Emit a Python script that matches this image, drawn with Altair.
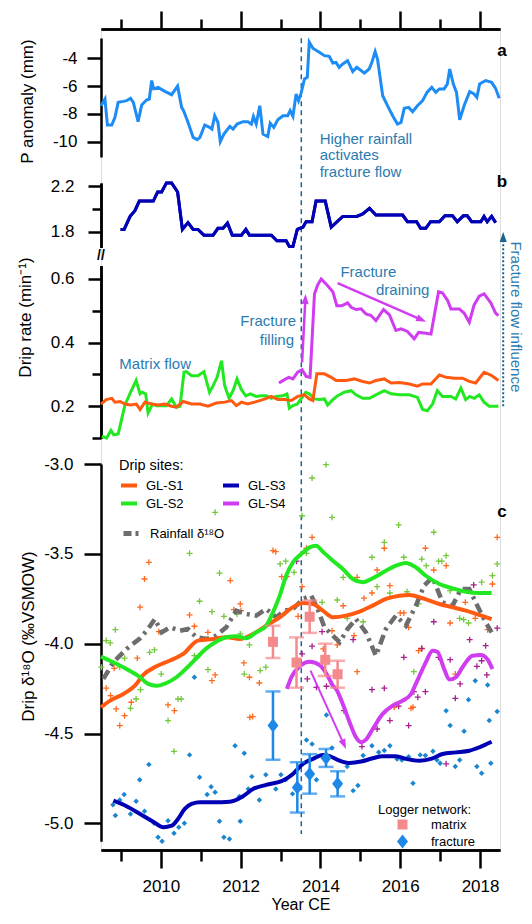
import altair as alt
import pandas as pd

FONT = "Liberation Sans"

# ---------------- data (year, value) ----------------
P_ANOM = [(2008.50,-7.41),(2008.60,-6.93),(2008.66,-8.80),(2008.77,-8.80),(2008.85,-8.25),(2008.93,-7.17),
          (2009.06,-7.10),(2009.14,-7.05),(2009.24,-6.88),(2009.31,-7.17),(2009.43,-8.56),(2009.52,-7.36),
          (2009.64,-7.00),(2009.71,-6.93),(2009.77,-5.60),(2009.82,-6.20),(2009.93,-6.09),(2010.10,-6.38),
          (2010.27,-6.62),(2010.42,-6.00),(2010.52,-7.53),(2010.57,-7.77),(2010.68,-8.60),(2010.81,-9.69),
          (2010.91,-9.86),(2010.98,-9.69),(2011.10,-8.80),(2011.22,-8.97),(2011.28,-9.10),(2011.35,-8.13),
          (2011.43,-8.60),(2011.49,-10.0),(2011.58,-9.45),(2011.73,-8.90),(2011.81,-9.09),(2011.91,-8.73),
          (2012.06,-8.56),(2012.18,-8.56),(2012.27,-8.73),(2012.32,-8.18),(2012.39,-8.73),(2012.48,-7.41),
          (2012.56,-9.45),(2012.68,-9.62),(2012.74,-8.66),(2012.83,-8.97),(2012.93,-8.42),(2013.06,-8.13),
          (2013.18,-8.13),(2013.24,-7.77),(2013.31,-8.18),(2013.39,-6.57),(2013.45,-7.05),(2013.52,-6.45),
          (2013.60,-5.49),(2013.67,-5.37),(2013.72,-2.85),(2013.81,-3.28),(2013.97,-3.57),(2014.10,-3.81),
          (2014.22,-3.86),(2014.31,-4.34),(2014.39,-4.29),(2014.47,-4.65),(2014.56,-4.41),(2014.68,-4.17),
          (2014.81,-4.96),(2014.91,-4.65),(2015.10,-5.06),(2015.22,-4.77),(2015.29,-4.29),(2015.37,-3.52),
          (2015.43,-4.05),(2015.56,-6.69),(2015.68,-7.41),(2015.81,-8.13),(2015.93,-8.73),(2016.02,-8.61),
          (2016.10,-7.60),(2016.21,-7.53),(2016.31,-7.84),(2016.43,-7.41),(2016.56,-7.05),(2016.67,-6.45),
          (2016.79,-6.09),(2016.89,-6.45),(2016.98,-6.20),(2017.10,-6.20),(2017.18,-5.85),(2017.24,-4.77),
          (2017.33,-5.85),(2017.41,-6.45),(2017.49,-8.42),(2017.60,-7.41),(2017.74,-6.40),(2017.85,-6.57),
          (2017.92,-6.81),(2017.99,-5.85),(2018.14,-5.60),(2018.29,-5.73),(2018.39,-6.16),(2018.48,-6.88)]

RATE_S3 = [(2008.99,1.82),(2009.08,1.82),(2009.23,1.935),(2009.35,1.985),(2009.46,2.07),(2009.81,2.07),
           (2009.92,2.15),(2010.02,2.15),(2010.14,2.23),(2010.27,2.23),(2010.42,2.15),(2010.54,1.82),
           (2010.68,1.88),(2010.81,1.82),(2010.93,1.82),(2011.08,1.77),(2011.31,1.77),(2011.43,1.83),
           (2011.56,1.83),(2011.67,1.876),(2011.79,1.77),(2012.02,1.77),(2012.13,1.82),(2012.22,1.77),
           (2012.77,1.77),(2012.91,1.72),(2013.14,1.72),(2013.22,1.67),(2013.31,1.67),(2013.42,1.82),
           (2013.56,1.84),(2013.64,1.888),(2013.79,1.888),(2013.89,2.07),(2014.12,2.07),(2014.27,1.84),
           (2014.56,1.935),(2014.91,1.935),(2015.06,1.956),(2015.23,2.006),(2015.39,1.947),(2016.06,1.947),
           (2016.18,1.888),(2016.41,1.888),(2016.51,1.83),(2016.64,1.83),(2016.76,1.888),(2016.98,1.888),
           (2017.12,1.94),(2017.31,1.94),(2017.43,1.888),(2017.58,1.94),(2017.68,1.94),(2017.79,1.888),
           (2018.02,1.888),(2018.10,1.935),(2018.18,1.888),(2018.29,1.935),(2018.39,1.88)]

RATE_S2 = [(2008.52,0.106),(2008.64,0.100),(2008.75,0.124),(2008.82,0.110),(2008.93,0.113),(2008.98,0.139),
           (2009.10,0.204),(2009.24,0.244),(2009.38,0.281),(2009.48,0.239),(2009.54,0.244),(2009.62,0.239),
           (2009.68,0.179),(2009.79,0.207),(2009.89,0.202),(2010.02,0.202),(2010.14,0.202),(2010.27,0.223),
           (2010.39,0.197),(2010.48,0.200),(2010.58,0.307),(2010.64,0.309),(2010.77,0.296),(2010.93,0.296),
           (2011.08,0.309),(2011.22,0.244),(2011.31,0.265),(2011.41,0.291),(2011.52,0.343),(2011.60,0.265),
           (2011.71,0.225),(2011.81,0.249),(2011.91,0.286),(2012.02,0.252),(2012.13,0.233),(2012.24,0.239),
           (2012.39,0.231),(2012.52,0.233),(2012.64,0.233),(2012.77,0.225),(2012.89,0.231),(2013.06,0.233),
           (2013.16,0.239),(2013.22,0.194),(2013.31,0.202),(2013.42,0.207),(2013.52,0.225),(2013.63,0.244),
           (2013.72,0.239),(2013.85,0.223),(2013.97,0.221),(2014.10,0.223),(2014.18,0.204),(2014.31,0.221),
           (2014.43,0.233),(2014.60,0.244),(2014.77,0.249),(2014.89,0.236),(2015.06,0.225),(2015.23,0.225),
           (2015.39,0.236),(2015.60,0.249),(2015.77,0.239),(2015.98,0.236),(2016.23,0.236),(2016.43,0.228),
           (2016.56,0.190),(2016.68,0.186),(2016.81,0.207),(2016.93,0.249),(2017.06,0.231),(2017.27,0.231),
           (2017.39,0.223),(2017.52,0.257),(2017.64,0.221),(2017.74,0.231),(2017.85,0.225),(2017.98,0.236),
           (2018.10,0.213),(2018.23,0.200),(2018.46,0.200)]

RATE_S1 = [(2008.50,0.207),(2008.63,0.221),(2008.77,0.225),(2008.85,0.213),(2008.98,0.215),(2009.10,0.207),
           (2009.24,0.204),(2009.39,0.207),(2009.48,0.190),(2009.60,0.213),(2009.77,0.207),(2009.93,0.204),
           (2010.10,0.207),(2010.27,0.200),(2010.39,0.197),(2010.56,0.215),(2010.77,0.207),(2010.98,0.207),
           (2011.18,0.200),(2011.39,0.210),(2011.60,0.213),(2011.77,0.218),(2011.89,0.202),(2012.02,0.213),
           (2012.18,0.207),(2012.35,0.213),(2012.56,0.221),(2012.77,0.231),(2012.93,0.221),(2013.10,0.221),
           (2013.27,0.218),(2013.43,0.231),(2013.60,0.236),(2013.72,0.223),(2013.81,0.218),(2013.91,0.302),
           (2014.10,0.302),(2014.27,0.291),(2014.39,0.281),(2014.64,0.281),(2014.85,0.286),(2015.06,0.278),
           (2015.23,0.273),(2015.39,0.281),(2015.60,0.286),(2015.77,0.273),(2015.98,0.275),(2016.23,0.270),
           (2016.43,0.263),(2016.56,0.270),(2016.77,0.270),(2016.98,0.298),(2017.15,0.291),(2017.35,0.288),
           (2017.56,0.288),(2017.73,0.278),(2017.89,0.273),(2018.10,0.307),(2018.27,0.298),(2018.46,0.281)]

RATE_S4 = [(2012.96,0.273),(2013.13,0.286),(2013.21,0.291),(2013.31,0.286),(2013.43,0.307),(2013.54,0.315),
           (2013.64,0.294),(2013.74,0.291),(2013.85,0.553),(2013.93,0.581),(2014.02,0.600),(2014.18,0.579),
           (2014.31,0.560),(2014.41,0.516),(2014.54,0.516),(2014.68,0.525),(2014.77,0.511),(2014.89,0.504),
           (2015.02,0.506),(2015.14,0.490),(2015.27,0.485),(2015.39,0.469),(2015.58,0.504),(2015.73,0.487),
           (2015.89,0.438),(2016.02,0.443),(2016.18,0.435),(2016.35,0.412),(2016.46,0.432),(2016.60,0.430),
           (2016.77,0.427),(2016.96,0.560),(2017.06,0.556),(2017.19,0.532),(2017.27,0.506),(2017.48,0.506),
           (2017.60,0.493),(2017.73,0.464),(2017.85,0.518),(2017.98,0.546),(2018.10,0.553),(2018.27,0.525),
           (2018.39,0.493),(2018.46,0.485)]

SMOOTH_S1 = [(2008.50,-4.354),(2008.73,-4.317),(2009.06,-4.280),(2009.35,-4.234),(2009.56,-4.174),
             (2009.89,-4.126),(2010.23,-4.094),(2010.56,-4.057),(2010.93,-3.983),(2011.31,-3.974),
             (2011.64,-3.964),(2011.98,-3.974),(2012.31,-3.946),(2012.64,-3.900),(2012.98,-3.853),
             (2013.31,-3.797),(2013.56,-3.774),(2013.81,-3.779),(2014.06,-3.816),(2014.31,-3.853),
             (2014.64,-3.844),(2014.98,-3.822),(2015.31,-3.788),(2015.64,-3.751),(2015.98,-3.733),
             (2016.23,-3.729),(2016.56,-3.747),(2016.98,-3.779),(2017.31,-3.797),(2017.64,-3.816),
             (2017.98,-3.840),(2018.29,-3.863)]
SMOOTH_S2 = [(2008.50,-4.072),(2008.81,-4.104),(2009.14,-4.141),(2009.48,-4.187),(2009.68,-4.224),
             (2009.89,-4.234),(2010.14,-4.219),(2010.39,-4.187),(2010.64,-4.137),(2010.89,-4.081),
             (2011.14,-4.026),(2011.39,-3.989),(2011.64,-3.964),(2011.89,-3.959),(2012.14,-3.970),
             (2012.39,-3.937),(2012.64,-3.900),(2012.81,-3.825),(2012.98,-3.733),(2013.14,-3.622),
             (2013.31,-3.547),(2013.52,-3.501),(2013.73,-3.464),(2013.89,-3.455),(2014.06,-3.488),
             (2014.31,-3.538),(2014.56,-3.584),(2014.81,-3.640),(2015.06,-3.658),(2015.31,-3.636),
             (2015.64,-3.594),(2015.89,-3.566),(2016.14,-3.551),(2016.39,-3.575),(2016.64,-3.622),
             (2016.98,-3.668),(2017.31,-3.692),(2017.64,-3.711),(2017.98,-3.718),(2018.29,-3.718)]
SMOOTH_S3 = [(2008.81,-4.874),(2009.14,-4.905),(2009.48,-4.948),(2009.81,-4.991),(2010.06,-5.022),
             (2010.27,-5.013),(2010.43,-4.976),(2010.60,-4.920),(2010.77,-4.892),(2010.98,-4.883),
             (2011.31,-4.883),(2011.73,-4.880),(2012.06,-4.849),(2012.31,-4.809),(2012.64,-4.786),
             (2013.06,-4.762),(2013.31,-4.725),(2013.56,-4.669),(2013.81,-4.641),(2014.06,-4.619),
             (2014.23,-4.626),(2014.48,-4.651),(2014.73,-4.664),(2015.02,-4.656),(2015.31,-4.638),
             (2015.56,-4.626),(2015.89,-4.626),(2016.14,-4.641),(2016.48,-4.651),(2016.81,-4.638),
             (2017.06,-4.614),(2017.39,-4.605),(2017.73,-4.596),(2017.98,-4.577),(2018.29,-4.546)]
SMOOTH_S4 = [(2013.16,-4.252),(2013.27,-4.187),(2013.48,-4.126),(2013.73,-4.100),(2013.98,-4.119),
             (2014.18,-4.178),(2014.31,-4.234),(2014.39,-4.252),(2014.56,-4.336),(2014.73,-4.437),
             (2014.89,-4.521),(2015.02,-4.549),(2015.14,-4.534),(2015.31,-4.475),(2015.56,-4.391),
             (2015.81,-4.345),(2016.06,-4.317),(2016.27,-4.280),(2016.39,-4.224),(2016.48,-4.180),
             (2016.64,-4.104),(2016.81,-4.039),(2016.93,-4.045),(2017.10,-4.141),(2017.23,-4.200),
             (2017.39,-4.187),(2017.56,-4.131),(2017.81,-4.067),(2018.02,-4.063),(2018.18,-4.085),
             (2018.31,-4.141)]

RAIN_D18O = [(2008.56,-4.196),(2008.81,-4.103),(2009.14,-4.030),(2009.48,-3.970),(2009.68,-3.918),
             (2009.85,-3.863),(2010.02,-3.937),(2010.23,-3.909),(2010.48,-3.928),(2010.68,-3.918),
             (2010.89,-3.964),(2011.14,-3.974),(2011.39,-3.955),(2011.64,-3.909),(2011.89,-3.816),
             (2012.14,-3.835),(2012.39,-3.844),(2012.64,-3.807),(2012.89,-3.853),(2013.10,-3.816),
             (2013.31,-3.807),(2013.56,-3.751),(2013.77,-3.733),(2013.93,-3.807),(2014.10,-3.909),
             (2014.31,-3.955),(2014.48,-3.992),(2014.68,-3.918),(2014.89,-3.863),(2015.14,-3.937),
             (2015.39,-4.067),(2015.64,-3.918),(2015.89,-3.844),(2016.14,-3.900),(2016.39,-3.789),
             (2016.60,-3.677),(2016.81,-3.631),(2017.06,-3.770),(2017.31,-3.789),(2017.52,-3.696),
             (2017.73,-3.696),(2017.89,-3.770),(2018.14,-3.881),(2018.29,-3.937)]

PTS_S1 = [(2009.70,-3.547),(2009.59,-3.640),(2011.74,-3.649),(2012.88,-3.488),(2013.03,-3.627),(2013.16,-3.627),
          (2013.79,-3.408),(2015.60,-3.469),(2013.65,-3.469),(2016.63,-3.469),(2017.15,-3.566),(2015.42,-3.590),
          (2016.84,-3.590),(2014.92,-3.631),(2013.54,-3.683),(2015.74,-3.677),(2018.43,-3.408),(2018.31,-3.668),
          (2012.81,-3.482),(2009.48,-3.797),(2010.72,-3.840),(2011.99,-3.779),(2009.95,-3.933),(2010.84,-3.903),
          (2011.18,-3.937),(2009.41,-4.081),(2008.83,-4.137),(2008.63,-4.248),(2008.74,-4.289),(2009.26,-4.326),
          (2008.88,-4.363),(2009.09,-4.401),(2010.18,-4.341),(2010.34,-4.373),(2011.28,-4.206),(2011.36,-4.174),
          (2012.08,-4.107),(2012.22,-4.187),(2012.47,-4.219),(2012.30,-4.406),(2011.83,-3.811),(2012.01,-3.816),
          (2013.44,-3.848),(2014.57,-3.789),(2015.09,-3.747),(2015.29,-3.718),(2016.00,-3.829),(2016.09,-3.829),
          (2016.21,-3.909),(2016.46,-4.039),(2016.54,-4.029),(2017.25,-3.885),(2017.63,-3.770),(2017.88,-3.859),
          (2018.19,-3.922),(2014.07,-4.029),(2014.42,-4.007),(2014.29,-3.928),(2014.84,-3.955),(2014.92,-4.156),
          (2016.32,-4.354),(2017.38,-4.169),(2008.97,-4.456),(2012.23,-4.410),(2015.85,-4.354),(2016.27,-4.360)]
PTS_S2 = [(2011.36,-3.269),(2010.72,-3.497),(2011.47,-3.607),(2012.99,-3.556),(2013.13,-3.541),(2013.34,-3.603),
          (2014.14,-3.004),(2013.79,-3.078),(2013.54,-3.288),(2014.29,-3.297),(2015.96,-3.339),(2016.84,-3.380),
          (2015.60,-3.436),(2013.65,-3.497),(2017.15,-3.510),(2015.29,-3.519),(2016.09,-3.519),(2016.54,-3.529),
          (2016.96,-3.541),(2017.04,-3.541),(2016.65,-3.566),(2014.57,-3.631),(2015.42,-3.683),(2018.04,-3.658),
          (2018.43,-3.556),(2018.31,-3.621),(2008.86,-3.922),(2008.63,-3.983),(2008.73,-3.996),(2010.97,-3.764),
          (2011.28,-3.822),(2011.58,-3.848),(2011.91,-3.835),(2009.72,-4.048),(2009.84,-4.035),(2009.09,-4.081),
          (2008.51,-4.131),(2008.97,-4.131),(2010.84,-4.067),(2011.18,-4.145),(2010.01,-4.169),(2009.49,-4.256),
          (2009.38,-4.308),(2009.24,-4.360),(2010.43,-4.308),(2010.51,-4.308),(2010.18,-4.428),(2012.09,-4.169),
          (2012.49,-4.150),(2012.63,-4.131),(2011.99,-3.946),(2012.22,-4.007),(2014.04,-3.770),(2014.42,-3.757),
          (2014.67,-3.859),(2015.07,-3.878),(2015.74,-3.718),(2016.17,-3.711),(2016.46,-3.779),(2017.25,-3.705),
          (2017.49,-3.859),(2017.59,-3.866),(2017.71,-3.885),(2016.34,-4.156),(2010.33,-4.599)]
PTS_S4 = [(2014.04,-3.933),(2013.79,-4.014),(2013.54,-4.057),(2014.82,-3.978),(2016.84,-3.878),(2017.74,-3.978),
          (2016.09,-4.076),(2016.54,-4.026),(2016.96,-4.076),(2017.25,-4.089),(2017.92,-4.126),(2018.04,-4.095),
          (2018.17,-4.174),(2013.67,-4.196),(2013.90,-4.243),(2014.15,-4.237),(2015.29,-4.256),(2015.60,-4.248),
          (2016.34,-4.267),(2016.63,-4.267),(2016.44,-4.298),(2017.38,-4.304),(2017.50,-4.224),(2015.96,-4.348),
          (2015.74,-4.428),(2014.59,-4.373),(2015.04,-4.573),(2015.42,-4.475),(2016.21,-4.456),(2017.15,-4.669),
          (2018.14,-4.011),(2018.43,-3.914),(2013.40,-3.541),(2017.84,-3.673)]
PTS_S3 = [(2010.84,-4.187),(2017.88,-4.206),(2018.19,-4.230),(2017.71,-4.312),(2017.15,-4.373),(2014.15,-4.397),
          (2008.80,-4.896),(2008.86,-4.957),(2008.97,-4.870),(2009.08,-4.840),(2009.24,-4.948),(2009.38,-4.877),
          (2009.47,-4.758),(2009.59,-4.933),(2009.70,-4.673),(2009.83,-4.999),(2009.93,-5.077),(2010.03,-5.100),
          (2010.18,-4.985),(2010.33,-5.055),(2010.45,-5.022),(2010.59,-5.000),(2010.72,-4.619),(2010.97,-4.743),
          (2011.16,-4.840),(2011.26,-4.796),(2011.36,-4.827),(2011.47,-4.988),(2011.58,-5.077),(2011.72,-5.087),
          (2011.86,-4.568),(2011.99,-4.988),(2012.09,-4.610),(2011.97,-4.851),(2012.19,-4.809),(2012.28,-4.740),
          (2012.47,-4.870),(2012.63,-4.729),(2012.88,-4.809),(2013.01,-4.729),(2013.13,-4.758),(2013.30,-4.836),
          (2013.65,-4.536),(2013.79,-4.558),(2013.90,-4.758),(2014.29,-4.580),(2014.82,-4.818),(2014.94,-4.790),
          (2014.67,-4.684),(2015.07,-4.623),(2015.29,-4.568),(2015.46,-4.604),(2015.60,-4.595),(2015.74,-4.568),
          (2015.92,-4.642),(2016.04,-4.647),(2016.21,-4.629),(2016.32,-4.777),(2016.50,-4.619),(2016.63,-4.623),
          (2016.82,-4.599),(2016.92,-4.647),(2017.00,-4.666),(2017.25,-4.456),(2017.38,-4.684),(2017.49,-4.647),
          (2017.60,-4.488),(2017.92,-4.684),(2018.04,-4.721),(2018.27,-4.666),(2018.23,-4.428),(2018.43,-4.378)]

LOG_KIND = ["matrix"] * 5 + ["fracture"] * 5
LOG_YEAR = [2012.81, 2013.40, 2013.73, 2014.12, 2014.43, 2012.81, 2013.42, 2013.73, 2014.14, 2014.43]
LOG_VAL = [-3.99, -4.105, -3.85, -4.09, -4.17, -4.456, -4.80, -4.725, -4.636, -4.78]
LOG_ERR = [0.09, 0.14, 0.09, 0.09, 0.075, 0.19, 0.14, 0.11, 0.05, 0.07]

SITES = ["GL-S1", "GL-S2", "GL-S3", "GL-S4"]
EVENT_YEAR = 2013.52

# ---------------- styling ----------------
C_S1, C_S2, C_S3, C_S4 = "#ff5a10", "#22e822", "#0000b4", "#d03cf0"
PT_S1, PT_S2, PT_S3, PT_S4 = "#ff6a20", "#74c83c", "#1a86d0", "#a8208f"
PBLUE = "#1e8cf5"
TEAL = "#2b7bb0"
DASHC = "#1d6391"
GRAY = "#6d6d6d"
PINK, LBLUE = "#f58a8c", "#1e88e8"
PLUS = "M-1,0L1,0M0,-1L0,1"
DIAM = "M0,-1.4L-1.1,0L0,1.4L1.1,0Z"
ARROW = "M0,-1.5L-0.9,1L0.9,1Z"

XDOM = [2008.5, 2018.5]
A_DOM, A_RNG = [-11.1, -2.54], [128, 9]
BU_DOM, BU_RNG = [1.662, 2.229], [218.4, 154]
BL_DOM, BL_RNG = [0.1, 0.642], [409.1, 236.6]
C_DOM, C_RNG = [-5.1, -3.0], [812.3, 435]
MAJOR = list(range(2010, 2019, 2))
MINOR = list(range(2009, 2018, 2))

AX = dict(domainColor="black", tickColor="black", domainWidth=2.5, tickWidth=2.5,
          labelFont=FONT, labelFontSize=17, labelColor="black", titleFont=FONT,
          titleFontSize=17, titleColor="black", titleFontWeight="normal", grid=False,
          labelFlush=False, labelOverlap=False)


def yaxis(values, tick, pad=12, labels=True, title=None, tx=0, ty=0, fmt=".1f"):
    kw = dict(AX, orient="left", values=values, tickSize=tick, labelPadding=pad,
              labels=labels, format=fmt, labelExpr="replace(datum.label, '\u2212', '-')")
    if title:
        kw.update(title=title, titleX=tx, titleY=ty, titleAngle=270,
                  titleBaseline="middle", titleAlign="center")
    else:
        kw.update(title=None)
    return alt.Axis(**kw)


def xaxis(orient, values, tick, labels=False, title=None):
    kw = dict(AX, orient=orient, values=values, tickSize=tick, labels=labels,
              format="d", labelPadding=10)
    if title:
        kw.update(title=title, titleY=62, titleBaseline="bottom", titleFontSize=16)
    else:
        kw.update(title=None)
    return alt.Axis(**kw)


def X(axis=None, field="year"):
    return alt.X(f"{field}:Q", scale=alt.Scale(domain=XDOM, nice=False, zero=False), axis=axis)


def Y(dom, rng, axis=None, field="v"):
    return alt.Y(f"{field}:Q", scale=alt.Scale(domain=dom, range=rng, nice=False, zero=False), axis=axis)


def frame(pairs, **extra):
    d = pd.DataFrame(pairs, columns=["year", "v"])
    for k, val in extra.items():
        d[k] = val
    return d


L = []

# event dashed line
ev = pd.DataFrame({"year": [EVENT_YEAR], "v": [-0.63], "v2": [-5.06]})
L.append(alt.Chart(ev).mark_rule(color=DASHC, strokeWidth=1.5, strokeDash=[5, 4]).encode(
    x=X(), y=Y(C_DOM, C_RNG), y2="v2:Q"))

# ---- panel a ----
L.append(alt.Chart(frame(P_ANOM)).mark_line(color=PBLUE, strokeWidth=3).encode(
    x=X(xaxis("top", MAJOR, 18)),
    y=Y(A_DOM, A_RNG, yaxis([-10, -8, -6, -4], 14, 10, title="P anomaly (mm)", tx=-74, ty=72, fmt="d"))))

# ---- panel b (upper, GL-S3) ----
bu = frame(RATE_S3)
L.append(alt.Chart(bu).mark_line(color=C_S3, strokeWidth=3).encode(
    x=X(xaxis("top", MINOR, 10)), y=Y(BU_DOM, BU_RNG, yaxis([2.0], 9, labels=False))))
L.append(alt.Chart(bu).mark_line(color=C_S3, strokeWidth=3).encode(
    x=X(), y=Y(BU_DOM, BU_RNG, yaxis([1.8, 2.2], 13, 14))))

# ---- panel b (lower) ----
L.append(alt.Chart(frame(RATE_S2)).mark_line(color=C_S2, strokeWidth=3).encode(
    x=X(), y=Y(BL_DOM, BL_RNG, yaxis([0.2, 0.4, 0.6], 13, 14, title="Drip rate (min\u207b\u00b9)", tx=-76, ty=288))))
L.append(alt.Chart(frame(RATE_S1)).mark_line(color=C_S1, strokeWidth=3).encode(
    x=X(), y=Y(BL_DOM, BL_RNG, yaxis([0.1, 0.3, 0.5], 9, labels=False))))
L.append(alt.Chart(frame(RATE_S4)).mark_line(color=C_S4, strokeWidth=3).encode(
    x=X(), y=Y(BL_DOM, BL_RNG)))

# ---- panel c scatter ----
L.append(alt.Chart(frame(PTS_S1)).mark_point(shape=PLUS, size=36, filled=False, strokeWidth=1.3,
                                             color=PT_S1, opacity=1).encode(
    x=X(xaxis("bottom", MAJOR, 18, labels=True, title="Year CE")),
    y=Y(C_DOM, C_RNG, yaxis([-5.0, -4.5, -4.0, -3.5, -3.0], 17, 11,
                            title="Drip \u03b4\u00b9\u2078O (\u2030VSMOW)", tx=-73, ty=607))))
L.append(alt.Chart(frame(PTS_S2)).mark_point(shape=PLUS, size=36, filled=False, strokeWidth=1.3,
                                             color=PT_S2, opacity=1).encode(
    x=X(xaxis("bottom", MINOR, 11)), y=Y(C_DOM, C_RNG)))
L.append(alt.Chart(frame(PTS_S4)).mark_point(shape=PLUS, size=36, filled=False, strokeWidth=1.3,
                                             color=PT_S4, opacity=1).encode(x=X(), y=Y(C_DOM, C_RNG)))
L.append(alt.Chart(frame(PTS_S3)).mark_point(shape="diamond", size=30, filled=True,
                                             color=PT_S3, opacity=1).encode(x=X(), y=Y(C_DOM, C_RNG)))

# rainfall line
rain = frame(RAIN_D18O, src="Rainfall \u03b4\u00b9\u2078O")
L.append(alt.Chart(rain).mark_line(strokeWidth=4.5, strokeDash=[10, 5, 3, 5]).encode(
    x=X(), y=Y(C_DOM, C_RNG),
    color=alt.Color("src:N", scale=alt.Scale(domain=["Rainfall \u03b4\u00b9\u2078O"], range=[GRAY]),
                    legend=alt.Legend(orient="none", legendX=20, legendY=493, title=None, padding=0,
                                      symbolType="stroke", symbolSize=324, symbolStrokeWidth=5,
                                      symbolDash=[8, 4, 3, 4], labelOffset=6, labelFont=FONT,
                                      labelFontSize=13, labelColor="black"))))

# smoothed drip lines
sm = pd.concat([frame(SMOOTH_S1, site="GL-S1"), frame(SMOOTH_S2, site="GL-S2"),
                frame(SMOOTH_S3, site="GL-S3"), frame(SMOOTH_S4, site="GL-S4")])
L.append(alt.Chart(sm).mark_line(strokeWidth=4, interpolate="monotone").encode(
    x=X(), y=Y(C_DOM, C_RNG),
    color=alt.Color("site:N", scale=alt.Scale(domain=SITES, range=[C_S1, C_S2, C_S3, C_S4]),
                    legend=alt.Legend(orient="none", legendX=18, legendY=430, title="Drip sites:",
                                      titleFont=FONT, titleFontSize=14.5, titleFontWeight="normal",
                                      titleColor="black", titlePadding=2, padding=0, columns=2,
                                      columnPadding=31, rowPadding=0, symbolType="stroke",
                                      symbolSize=256, symbolStrokeWidth=4, labelOffset=7,
                                      labelFont=FONT, labelFontSize=13, labelColor="black"))))

# logger network error bars
lg = pd.DataFrame({"kind": LOG_KIND, "year": LOG_YEAR, "v": LOG_VAL, "err": LOG_ERR})
lg["lo"] = lg["v"] - lg["err"]
lg["hi"] = lg["v"] + lg["err"]
KSCALE = alt.Scale(domain=["matrix", "fracture"], range=[PINK, LBLUE])
kcol = alt.Color("kind:N", scale=KSCALE, legend=None)
L.append(alt.Chart(lg).mark_rule(strokeWidth=2.5).encode(
    x=X(), y=Y(C_DOM, C_RNG, field="lo"), y2="hi:Q", color=kcol))
L.append(alt.Chart(lg).mark_tick(orient="horizontal", size=15, thickness=2.5).encode(
    x=X(), y=Y(C_DOM, C_RNG, field="lo"), color=kcol))
L.append(alt.Chart(lg).mark_tick(orient="horizontal", size=15, thickness=2.5).encode(
    x=X(), y=Y(C_DOM, C_RNG, field="hi"), color=kcol))
LOGLEG = alt.Legend(orient="none", legendX=277, legendY=775, title="Logger network:",
                    titleFont=FONT, titleFontSize=13, titleFontWeight="normal", titleColor="black",
                    titlePadding=1, padding=0, rowPadding=2, symbolSize=100, symbolOffset=18,
                    labelOffset=22, labelFont=FONT, labelFontSize=13, labelColor="black")
L.append(alt.Chart(lg).mark_point(filled=True, size=100, opacity=1).encode(
    x=X(), y=Y(C_DOM, C_RNG),
    color=alt.Color("kind:N", scale=KSCALE, legend=LOGLEG),
    shape=alt.Shape("kind:N", scale=alt.Scale(domain=["matrix", "fracture"], range=["square", DIAM]),
                    legend=LOGLEG)))

# ---- arrows ----
def arrow(x0, v0, x1, v1, ang, dom, rng, color, dash=None, width=2.5):
    seg = pd.DataFrame({"year": [x0], "v": [v0], "year2": [x1], "v2": [v1]})
    kw = dict(color=color, strokeWidth=width)
    if dash:
        kw["strokeDash"] = dash
    rule = alt.Chart(seg).mark_rule(**kw).encode(
        x=X(), y=Y(dom, rng), x2="year2:Q", y2="v2:Q")
    head = alt.Chart(pd.DataFrame({"year": [x1], "v": [v1]})).mark_point(
        shape=ARROW, size=64, filled=True, color=color, opacity=1, angle=ang).encode(
        x=X(), y=Y(dom, rng))
    return [rule, head]

L += arrow(2013.54, 0.338, 2013.62, 0.534, 3, BL_DOM, BL_RNG, C_S4)
L += arrow(2014.43, 0.587, 2016.51, 0.473, 114, BL_DOM, BL_RNG, C_S4)
L += arrow(2013.75, -4.150, 2014.58, -4.556, 156, C_DOM, C_RNG, C_S4, width=2)
L += arrow(2018.58, 0.200, 2018.58, 0.729, 0, BL_DOM, BL_RNG, DASHC, dash=[2, 2], width=2)

# ---- text annotations ----
def texts(rows, dom, rng, **mk):
    d = pd.DataFrame(rows, columns=["t", "year", "v"])
    base = dict(font=FONT, fontSize=15, color=TEAL)
    base.update(mk)
    return alt.Chart(d).mark_text(**base).encode(x=X(), y=Y(dom, rng), text="t:N")

L.append(texts([("Higher rainfall\nactivates\nfracture flow", 2013.98, -9.30)], A_DOM, A_RNG,
               align="left", baseline="top", lineBreak="\n", lineHeight=16.5))
L.append(texts([("Matrix flow", 2008.96, 0.333)], BL_DOM, BL_RNG, align="left", baseline="middle"))
L.append(texts([("Fracture", 2012.69, 0.469), ("filling", 2012.91, 0.409),
                ("Fracture", 2015.20, 0.621), ("draining", 2016.06, 0.566)],
               BL_DOM, BL_RNG, align="center", baseline="middle"))
L.append(texts([("Fracture flow influence", 2018.89, 0.481)], BL_DOM, BL_RNG,
               align="center", baseline="middle", angle=90))
L.append(texts([("//", 2008.5, 0.672)], BL_DOM, BL_RNG, align="center", baseline="middle",
               color="black", fontWeight="bold", fontSize=14))
L.append(texts([("a", 2018.55, -3.45)], A_DOM, A_RNG, align="center", baseline="middle",
               color="black", fontWeight="bold", fontSize=17))
L.append(texts([("b", 2018.55, 2.235)], BU_DOM, BU_RNG, align="center", baseline="middle",
               color="black", fontWeight="bold", fontSize=17))
L.append(texts([("c", 2018.55, -3.269)], C_DOM, C_RNG, align="center", baseline="middle",
               color="black", fontWeight="bold", fontSize=17))

chart = alt.layer(*L).resolve_scale(
    x="independent", y="independent", color="independent", shape="independent"
).properties(
    width=399, height=821,
    autosize=alt.AutoSizeParams(type="none"),
    padding={"left": 93, "top": 21, "right": 24, "bottom": 62},
).configure_view(stroke=None).configure(font=FONT)

chart.save("out.html", embed_options={"renderer": "svg", "actions": False})
